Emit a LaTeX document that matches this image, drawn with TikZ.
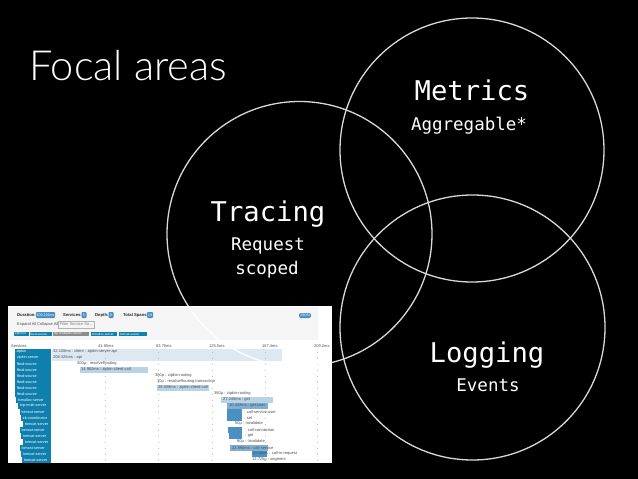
\documentclass[tikz,border=0pt]{standalone}
\usepackage{fontspec}
\setmainfont{Liberation Sans}
\newfontfamily\titlefont{Lato Light}
\newfontfamily\monofont{DejaVu Sans Mono}
\definecolor{teal1}{HTML}{0F7FAE}
\definecolor{pale}{HTML}{DCE9F3}
\definecolor{midA}{HTML}{B9D3E6}
\definecolor{midB}{HTML}{7FB0D3}
\definecolor{midC}{HTML}{4A90C2}
\definecolor{ringc}{HTML}{D8D8D8}
\tikzset{
  x=1pt,y=-1pt,
  ring/.style={draw=ringc,line width=1.3pt},
  big/.style={text=white,font=\monofont\fontsize{27.2}{27}\selectfont,inner sep=0pt,anchor=base},
  small/.style={text=white,font=\monofont\fontsize{17.5}{17.5}\selectfont,inner sep=0pt,anchor=base},
  tiny/.style={text=black!70,font=\fontsize{4}{4}\selectfont,inner sep=0pt,anchor=west},
  head/.style={text=black!85,font=\bfseries\fontsize{4.2}{4.2}\selectfont,inner sep=0pt,anchor=west},
  pill/.style={fill=#1,text=white,font=\fontsize{3.6}{3.6}\selectfont,inner sep=0pt,rounded corners=0.8pt,anchor=center},
  svc/.style={text=white,font=\fontsize{3.8}{3.8}\selectfont,inner sep=0pt,anchor=west},
}
\begin{document}
\begin{tikzpicture}
\useasboundingbox (0,0) rectangle (638,479);
\fill[black] (0,0) rectangle (638,479);
\coordinate (cM) at (472,150);
\coordinate (cT) at (299.5,234);
\coordinate (cL) at (472.5,327.5);
\draw[ring] (cM) circle[radius=132];
\draw[ring] (cT) circle[radius=132.5];
\draw[ring] (cL) circle[radius=132.5];
\node[text=white,font=\titlefont\fontsize{41.5}{42}\selectfont,inner sep=0pt,anchor=base west] (title) at (29,80.5) {Focal areas};
\node[big] (metrics) at (472,100) {Metrics};
\node[small] (agg) at (469,130) {Aggregable*};
\node[big] (tracing) at (268,221) {Tracing};
\node[small] (req) at (268,250) {Request};
\node[small] (sco) at (267,274) {scoped};
\node[big] (logging) at (487,362) {Logging};
\node[small] (events) at (488,391) {Events};
% screenshot
\fill[white] (8,306) rectangle (331.5,463);
\fill[black!4] (8,307) rectangle (318,340);
\node[head] (h1) at (17,315) {Duration:};
\node[pill=midC,minimum width=19pt,minimum height=6pt] (p1) at (45.5,315) {209.226ms};
\node[head] (h2) at (63,315) {Services:};
\node[pill=midC,minimum width=5pt,minimum height=6pt] (p2) at (84,315) {5};
\node[head] (h3) at (95,315) {Depth:};
\node[pill=midC,minimum width=5pt,minimum height=6pt] (p3) at (111,315) {9};
\node[head] (h4) at (123,315) {Total Spans:};
\node[pill=midC,minimum width=6pt,minimum height=6pt] (p4) at (150,315) {29};
\node[pill=midC,minimum width=12pt,minimum height=5pt,rounded corners=2pt] (json) at (305,315.5) {JSON};
\node[tiny] (e1) at (17,324.5) {Expand All};
\node[tiny] (e2) at (37,324.5) {Collapse All};
\node[draw=black!30,line width=0.3pt,tiny,minimum width=36pt,minimum height=7pt,text=black!50] (filt) at (58,324.5) {Filter Service So...};
\foreach \n/\a/\b/\t/\c in {b1/13.5/29/zipkin-ui/teal1,b2/29.5/52/fbsd-source/teal1,b3/53/89/tcp-multiplex-server/black!45,b4/91/117/tcmalloc-server/teal1,b5/119/147/tomcat-server/teal1}{
  \fill[\c] (\a,331.7) rectangle (\b,336.3);
  \node[svc,font=\fontsize{3.2}{3.2}\selectfont] (\n) at (\a+0.8,334) {\t};
}
\node[tiny] (t0) at (11,346) {Services};
\foreach \n/\x/\t in {t1/98/41.85ms,t2/156/83.70ms,t3/209/125.5ms,t4/262/167.4ms,t5/314/209.2ms}{
  \node[tiny] (\n) at (\x,346) {\t};
}
% pale bars
\fill[pale] (52,349) rectangle (282,354.6);
\fill[pale] (52,355) rectangle (282,360.6);
% dotted time columns
\foreach \x in {105,158,212,265,317}{
  \foreach \r in {0,...,18}{
    \fill[black!25] (\x-0.4,351.5+\r*6) rectangle (\x+0.4,352.5+\r*6);
  }
}
% the tracing circle showing faintly through the screenshot
\begin{scope}
\clip (8,306) rectangle (331.5,463);
\draw[white,line width=1.3pt] (cT) circle[radius=132.5];
\end{scope}
% bars, by row
\foreach \r/\a/\b/\c in {3/80/148/midA,6/157/209/midA,8/221/273/midA,9/227/268/midB,10/227/242/midC,11/227/242/midC,13/228/242/midC,14/229/242/midC,16/230/268/midB,17/252/267/midC}{
  \pgfmathsetmacro\yy{351.8+\r*6}
  \fill[\c] (\a,\yy-2.8) rectangle (\b,\yy+2.8);
}
% service column
\foreach \i/\x/\t in {0/14.5/zipkin,1/15/zipkin-server,2/15/fbsd-source,3/15/fbsd-source,4/15/fbsd-source,5/15/fbsd-source,6/15/fbsd-source,7/15/fbsd-source,8/16/tcmalloc-server,9/18/tcp-multi-server,10/19.5/tomcat-server,11/21/zk-coordinator,12/23/tomcat-server,13/19.5/tomcat-server,14/21/tomcat-server,15/23/tomcat-server,16/19.5/tomcat-server,17/21/tomcat-server,18/22/tomcat-server}{
  \pgfmathsetmacro\yy{351.8+\i*6}
  \fill[teal1] (\x,\yy-2.85) rectangle (51,\yy+2.85);
  \node[svc] (s\i) at (\x+1.8,\yy) {\t};
}
% timeline labels
\foreach \n/\x/\r/\t in {a0/53/0/32.128ms : client : zipkin-server-api,a1/53/1/208.325ms : api,a2/77/2/300μ : resolveRouting,a3/81/3/14.982ms : zipkin-client-call,a4/155/4/380μ : zipkin-routing,a5/157/5/30μ : resolveRouting.transaction,a6/158/6/38.009ms : zipkin-client-call,a7/214/7/380μ : zipkin-routing,a8/223/8/27.140ms : get,a9/229/9/10.432ms : get-user,a10/244/10/: call-service-user,a11/244/11/: set,a12/235/12/50μ : Invalidate,a13/245/13/: call-connection,a14/245/14/: get,a15/237/15/80μ : Invalidate,a16/232/16/22.890ms : call-service,a19/252/18/12.725μ : segment}{
  \pgfmathsetmacro\yy{351.8+\r*6}
  \node[tiny] (\n) at (\x,\yy) {\t};
}
\node[tiny,font=\fontsize{3.4}{3.4}\selectfont] (a17) at (253,453.8) {12.309ms};
\node[tiny] (a18) at (269,453.8) {: call-in-request};
\end{tikzpicture}
\end{document}
